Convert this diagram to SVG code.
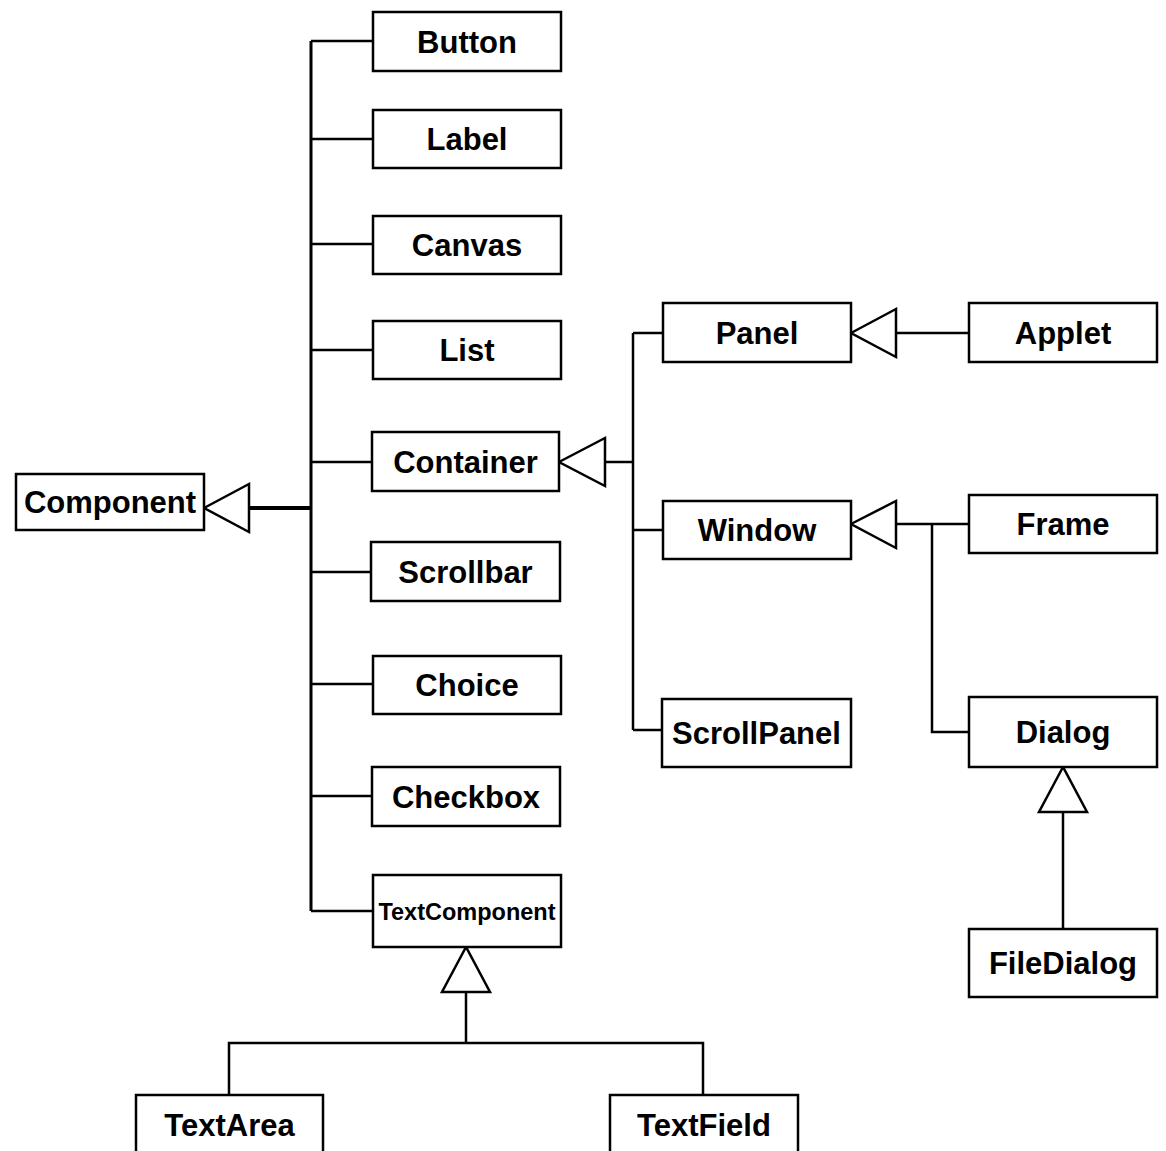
<svg xmlns="http://www.w3.org/2000/svg" width="1166" height="1151" viewBox="0 0 1166 1151">
<style>
.box{fill:#fff;stroke:#000;stroke-width:2.5}
.t{font-family:"Liberation Sans",Arial,sans-serif;font-weight:bold;font-size:31px;text-anchor:middle;fill:#000}
.s{font-size:23.5px}
.ln{fill:none;stroke:#000;stroke-width:2.5}
.tri{fill:#fff;stroke:#000;stroke-width:2.5;stroke-linejoin:miter}
</style>
<rect width="1166" height="1151" fill="#fff"/>
<g id="connectors">
<path class="ln" d="M311,41 V911" style="stroke-width:3"/>
<path class="ln" d="M311,41 H373 M311,139 H373 M311,244 H373 M311,350 H373 M311,462 H372 M311,572 H371 M311,684 H373 M311,796 H372 M311,911 H373"/>
<path class="ln" d="M249,508 H311" style="stroke-width:4"/>
<polygon class="tri" points="204,508 249,484 249,532"/>
<path class="ln" d="M605,462 H633 M633,333 V730 M633,333 H663 M633,530 H663 M633,730 H662"/>
<polygon class="tri" points="559,462 605,438 605,486"/>
<path class="ln" d="M896,333 H969"/>
<polygon class="tri" points="851,333 896,309 896,357"/>
<path class="ln" d="M896,524 H969 M932,524 V732 H969"/>
<polygon class="tri" points="851,524 896,501 896,548"/>
<path class="ln" d="M1063,812 V929"/>
<polygon class="tri" points="1063,767 1039,812 1087,812"/>
<path class="ln" d="M466,992 V1043 M229,1095 V1043 H703 V1095"/>
<polygon class="tri" points="466,947 442,992 490,992"/>
</g>
<g id="Component"><rect class="box" x="16" y="474" width="188" height="56"/><text class="t" x="110" y="513">Component</text></g>
<g id="Button"><rect class="box" x="373" y="12" width="188" height="59"/><text class="t" x="467" y="53">Button</text></g>
<g id="Label"><rect class="box" x="373" y="110" width="188" height="58"/><text class="t" x="467" y="150">Label</text></g>
<g id="Canvas"><rect class="box" x="373" y="216" width="188" height="58"/><text class="t" x="467" y="256">Canvas</text></g>
<g id="List"><rect class="box" x="373" y="321" width="188" height="58"/><text class="t" x="467" y="361">List</text></g>
<g id="Container"><rect class="box" x="372" y="432" width="187" height="59"/><text class="t" x="465.5" y="473">Container</text></g>
<g id="Scrollbar"><rect class="box" x="371" y="542" width="189" height="59"/><text class="t" x="465.5" y="583">Scrollbar</text></g>
<g id="Choice"><rect class="box" x="373" y="656" width="188" height="58"/><text class="t" x="467" y="696">Choice</text></g>
<g id="Checkbox"><rect class="box" x="372" y="767" width="188" height="59"/><text class="t" x="466" y="808">Checkbox</text></g>
<g id="TextComponent"><rect class="box" x="373" y="875" width="188" height="72"/><text class="t s" x="467" y="920">TextComponent</text></g>
<g id="TextArea"><rect class="box" x="136" y="1095" width="187" height="70"/><text class="t" x="229.5" y="1136">TextArea</text></g>
<g id="TextField"><rect class="box" x="610" y="1095" width="188" height="70"/><text class="t" x="704" y="1136">TextField</text></g>
<g id="Panel"><rect class="box" x="663" y="303" width="188" height="59"/><text class="t" x="757" y="344">Panel</text></g>
<g id="Window"><rect class="box" x="663" y="501" width="188" height="58"/><text class="t" x="757" y="541">Window</text></g>
<g id="ScrollPanel"><rect class="box" x="662" y="699" width="189" height="68"/><text class="t" x="756.5" y="744">ScrollPanel</text></g>
<g id="Applet"><rect class="box" x="969" y="303" width="188" height="59"/><text class="t" x="1063" y="344">Applet</text></g>
<g id="Frame"><rect class="box" x="969" y="495" width="188" height="58"/><text class="t" x="1063" y="535">Frame</text></g>
<g id="Dialog"><rect class="box" x="969" y="697" width="188" height="70"/><text class="t" x="1063" y="743">Dialog</text></g>
<g id="FileDialog"><rect class="box" x="969" y="929" width="188" height="68"/><text class="t" x="1063" y="974">FileDialog</text></g>
</svg>
